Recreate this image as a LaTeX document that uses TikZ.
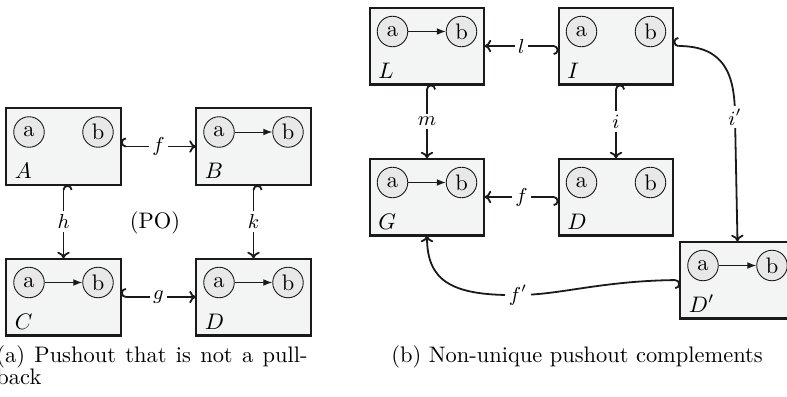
\documentclass[tikz,border=0pt]{standalone}
\usetikzlibrary{arrows.meta}
\definecolor{boxfill}{HTML}{F3F4F4}
\definecolor{vfill}{HTML}{E8E8E8}
\definecolor{ink}{HTML}{1A1A1A}
% a graph box: name, centre x, centre y, label, 1 = edge a->b drawn
\newcommand\gbox[5]{%
  \node[box] (#1) at (#2,#3) {};
  \node[vtx] (#1a) at ({#2-34.5},{#3-14.5}) {a};
  \node[vtx] (#1b) at ({#2+34.5},{#3-14.5}) {b};
  \node[anchor=base west, inner sep=0] (#1n) at ({#2-49},{#3+32}) {$#4$};
  \ifnum#5=1 \draw[edge] (#1a) -- (#1b);\fi
}
\begin{document}
\begin{tikzpicture}[x=0.4455pt, y=-0.4455pt,
  box/.style={draw=ink, line width=0.9pt, fill=boxfill, minimum width=51.2pt,
    minimum height=34.3pt, inner sep=0pt, outer sep=0pt},
  vtx/.style={circle, draw=ink, line width=0.4pt, fill=vfill, minimum size=13.6pt,
    inner sep=0pt},
  edge/.style={draw=ink, line width=0.45pt, -{Latex[length=4pt,width=3pt]}},
  conn/.style={draw=ink, line width=0.8pt,
    {Hooks[right,length=2.2pt,width=8pt]}-{To[length=3pt,width=5.5pt]}},
  lbl/.style={fill=white, inner sep=1.5pt, font=\small}]
\useasboundingbox (0,0) rectangle (787,396);

% left square
\gbox{A}{63.5}{146.5}{A}{0}
\gbox{B}{253.5}{146.5}{B}{1}
\gbox{C}{63.5}{297}{C}{1}
\gbox{D}{253.5}{297}{D}{1}
\draw[conn] (A) -- node[lbl]{$f$} (B);
\draw[conn] (A) -- node[lbl]{$h$} (C);
\draw[conn] (B) -- node[lbl]{$k$} (D);
\draw[conn] (C) -- node[lbl]{$g$} (D);
\node (po) at (155,223) {(PO)};

% right diagram
\gbox{L}{427}{46}{L}{1}
\gbox{I}{616}{46}{I}{0}
\gbox{G}{427}{197}{G}{1}
\gbox{Dt}{616}{197}{D}{0}
\gbox{Dp}{737.5}{280}{D'}{1}
\draw[conn] (I) -- node[lbl]{$l$} (L);
\draw[conn] (L) -- node[lbl]{$m$} (G);
\draw[conn] (I) -- node[lbl]{$i$} (Dt);
\draw[conn] (Dt) -- node[lbl]{$f$} (G);
\draw[conn] (I.east) .. controls (725,46) and (735,75) .. (735,117)
  node[lbl]{$i'$} -- (Dp.north);
\draw[conn] (Dp.west) .. controls (600,281) and (560,295) .. (518,295)
  node[lbl]{$f'$} .. controls (450,296) and (427,280) .. (G.south);

% captions
\node[anchor=base west, inner sep=0pt] (capa1) at (-4,362)
  {\makebox[138.6pt][s]{(a) Pushout that is not a pull-}};
\node[anchor=base west, inner sep=0pt] (capa2) at (-4,384) {back};
\node[anchor=base west, inner sep=0pt] (capb) at (391,362)
  {(b) Non-unique pushout complements};
\end{tikzpicture}
\end{document}
